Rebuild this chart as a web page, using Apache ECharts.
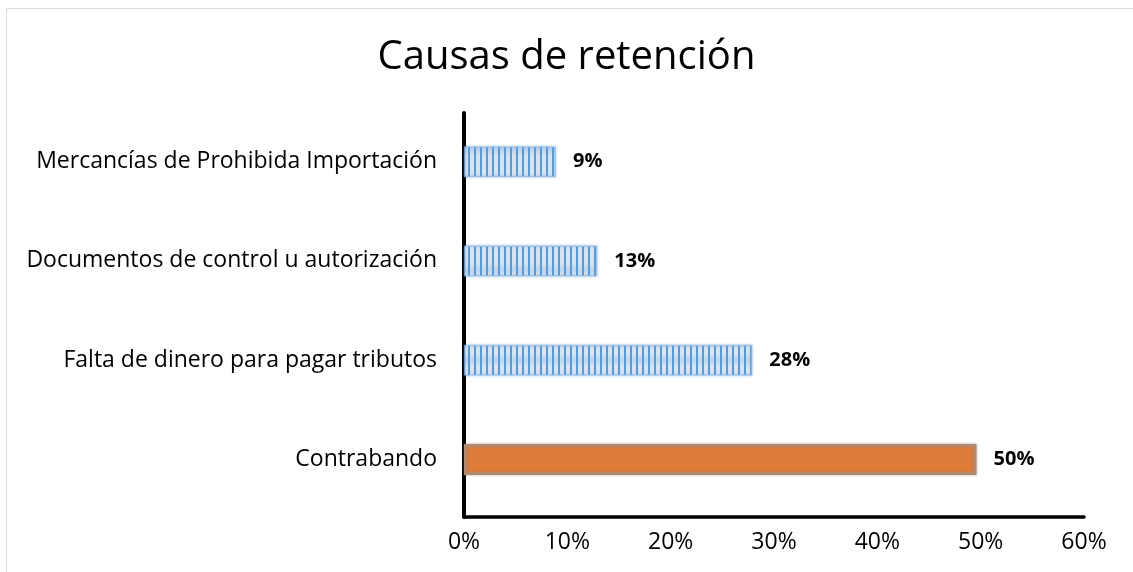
<!DOCTYPE html>
<html>
<head>
<meta charset="utf-8">
<script src="https://cdn.jsdelivr.net/npm/echarts@6/dist/echarts.min.js"></script>
<style>
html,body{margin:0;padding:0;background:#fff;}
#chart{width:1133px;height:572px;}
</style>
</head>
<body>
<div id="chart"></div>
<script>
const titleText = 'Causas de retención';
const categories = ['Mercancías de Prohibida Importación', 'Documentos de control u autorización', 'Falta de dinero para pagar tributos', 'Contrabando'];
const values = [0.089, 0.129, 0.279, 0.496];
const tickMin = 0, tickMax = 0.6, tickStep = 0.1;

function stripePattern() {
  const c = document.createElement('canvas');
  c.width = 6; c.height = 30;
  const ctx = c.getContext('2d');
  const g = ctx.createLinearGradient(0, 0, 0, 30);
  g.addColorStop(0, '#bcd4ee');
  g.addColorStop(0.2, '#d6e4f4');
  g.addColorStop(0.8, '#d6e4f4');
  g.addColorStop(1, '#bcd4ee');
  ctx.fillStyle = g;
  ctx.fillRect(0, 0, 6, 30);
  ctx.fillStyle = '#5b9bd5';
  ctx.fillRect(0, 0, 2, 30);
  return c;
}

const chart = echarts.init(document.getElementById('chart'), null, {renderer: 'canvas'});
const pct = v => Math.round(v * 100) + '%';
const pattern = {image: stripePattern(), repeat: 'repeat'};

chart.setOption({
  animation: false,
  backgroundColor: '#fff',
  title: {
    text: titleText, left: 'center', top: 33,
    textStyle: {fontFamily: 'Open Sans', fontSize: 40, fontWeight: 'normal', color: '#000'}
  },
  graphic: [{
    type: 'rect', silent: true, z: -10,
    shape: {x: 6.5, y: 8.5, width: 1200, height: 700},
    style: {fill: 'none', stroke: '#d9d9d9', lineWidth: 1}
  }],
  grid: [
    {left: 464, right: 49, top: 112, height: 397},
    {left: 464, right: 49, top: 113, bottom: 55}
  ],
  xAxis: [
    {gridIndex: 0, type: 'value', min: tickMin, max: tickMax, interval: tickStep, show: false},
    {gridIndex: 1, type: 'value', min: tickMin, max: tickMax, interval: tickStep,
     axisLine: {show: true, lineStyle: {color: '#000', width: 3.5}},
     axisTick: {show: false}, splitLine: {show: false},
     axisLabel: {formatter: pct, fontFamily: 'Open Sans', fontSize: 23, color: '#000', margin: 14}}
  ],
  yAxis: [
    {gridIndex: 0, type: 'category', inverse: true, data: categories,
     axisLine: {show: false}, axisTick: {show: false},
     axisLabel: {fontFamily: 'Open Sans', fontSize: 23, color: '#000', margin: 27}},
    {gridIndex: 1, type: 'category', data: [''],
     axisLine: {show: true, lineStyle: {color: '#000', width: 4}},
     axisTick: {show: false}, axisLabel: {show: false}}
  ],
  series: [{
    type: 'bar', xAxisIndex: 0, yAxisIndex: 0,
    barWidth: 31,
    data: values.map((v, i) => ({
      value: v,
      itemStyle: i === values.length - 1
        ? {color: '#e07c3a', borderColor: '#b5896f', borderWidth: 3, shadowBlur: 3, shadowColor: 'rgba(150,130,120,0.6)'}
        : {color: pattern, borderColor: 'rgba(140,180,225,0.6)', borderWidth: 1.5, shadowBlur: 3, shadowColor: 'rgba(91,155,213,0.5)'}
    })),
    label: {
      show: true, position: 'right', distance: 17, formatter: p => pct(p.value),
      fontFamily: 'Open Sans', fontSize: 20, fontWeight: 'bold', color: '#000'
    }
  }]
});
</script>
</body>
</html>
